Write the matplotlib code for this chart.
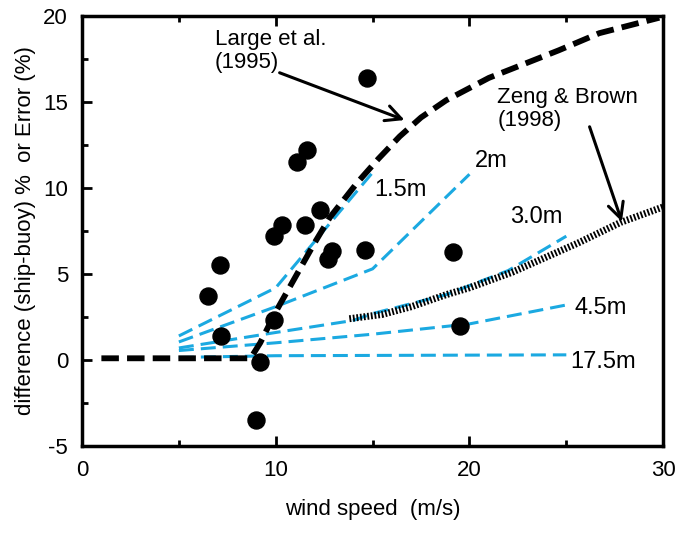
import matplotlib
matplotlib.use("Agg")
import matplotlib.pyplot as plt

plt.rcParams['font.family'] = ['Liberation Sans', 'DejaVu Sans']
plt.rcParams['axes.unicode_minus'] = False

# ship-buoy differences
obs_ws = [14.7, 11.6, 11.1, 12.3, 11.5, 10.3, 9.9, 12.9, 12.7, 14.6, 7.1,
          6.5, 7.2, 9.9, 9.2, 9.0, 19.15, 19.5]
obs_diff = [16.4, 12.2, 11.5, 8.7, 7.85, 7.85, 7.2, 6.35, 5.85, 6.4, 5.5,
            3.7, 1.4, 2.3, -0.1, -3.5, 6.3, 1.95]

# Large et al. (1995)
large_ws = [1.0, 8.7, 9.2, 10.0, 10.9, 12.0, 12.8, 14.2, 15.3, 16.4, 17.5, 18.8,
            21.0, 24.6, 26.7, 29.8]
large_diff = [0.1, 0.1, 1.0, 2.8, 4.6, 6.8, 8.3, 10.3, 11.7, 13.0, 14.1, 15.1,
              16.4, 18.0, 19.0, 19.9]

# Zeng & Brown (1998)
zb_ws = [13.8, 15.5, 17.0, 18.8, 20.0, 22.2, 25.6, 27.8, 30.0]
zb_diff = [2.4, 2.65, 3.1, 3.8, 4.2, 5.1, 6.8, 8.0, 8.9]

# error curves for different heights
heights = ['1.5m', '2m', '3.0m', '4.5m', '17.5m']
h_ws = {
    '1.5m': [5, 10, 15],
    '2m': [5, 10, 15, 20],
    '3.0m': [5, 10, 14, 15, 18.8, 22, 25],
    '4.5m': [5, 10, 15, 20, 25],
    '17.5m': [5, 10, 25],
}
h_err = {
    '1.5m': [1.4, 4.2, 10.9],
    '2m': [1.05, 3.1, 5.3, 10.8],
    '3.0m': [0.7, 1.6, 2.3, 2.7, 3.8, 5.2, 7.2],
    '4.5m': [0.55, 1.0, 1.5, 2.1, 3.2],
    '17.5m': [0.15, 0.25, 0.3],
}
label_pos = {'1.5m': (15.1, 9.9), '2m': (20.3, 11.55), '3.0m': (22.1, 8.33),
             '4.5m': (25.4, 3.0), '17.5m': (25.2, -0.1)}

blue = '#1ba9e1'

fig = plt.figure(figsize=(6.75, 5.33), dpi=100)
ax = fig.add_axes([0.1215, 0.1632, 0.861, 0.8068])

for h in heights:
    ax.plot(h_ws[h], h_err[h], color=blue, lw=2.2, linestyle=(0, (4.9, 2.3)))
    ax.text(*label_pos[h], h, fontsize=17, va='center', ha='left')

ax.plot(large_ws, large_diff, color='black', lw=4.2, linestyle=(0, (3.0, 1.4)))
ax.plot(zb_ws, zb_diff, color='black', lw=5, linestyle=(0, (0.26, 0.26)))

ax.scatter(obs_ws, obs_diff, s=150, color='black', zorder=5)

# labels and arrows
ax.text(6.86, 19.25, 'Large et al.\n(1995)', fontsize=16, ha='left', va='top',
        linespacing=1.15)
ax.annotate('', xy=(16.65, 13.95), xytext=(10.2, 16.7),
            arrowprops=dict(arrowstyle='->', lw=2.2, color='black',
                            mutation_scale=28, shrinkA=0, shrinkB=0))
ax.text(21.44, 15.9, 'Zeng & Brown\n(1998)', fontsize=16, ha='left', va='top',
        linespacing=1.15)
ax.annotate('', xy=(27.87, 8.04), xytext=(26.2, 13.56),
            arrowprops=dict(arrowstyle='->', lw=2.2, color='black',
                            mutation_scale=28, shrinkA=0, shrinkB=0))

ax.set_xlim(0, 30)
ax.set_ylim(-5, 20)
ax.set_xticks([0, 10, 20, 30])
ax.set_xticks([5, 15, 25], minor=True)
ax.set_yticks([-5, 0, 5, 10, 15, 20])
ax.set_yticks([-2.5, 2.5, 7.5, 12.5, 17.5], minor=True)
ax.tick_params(which='both', direction='in', top=True, right=False, width=2,
               labelsize=16, pad=10)
ax.tick_params(which='major', length=7.5)
ax.tick_params(which='minor', length=4.5)
for s in ax.spines.values():
    s.set_linewidth(2.5)

ax.set_xlabel('wind speed  (m/s)', fontsize=16, labelpad=13)
ax.set_ylabel('difference (ship-buoy) %  or Error (%)', fontsize=16, labelpad=5)

fig.savefig('out.png', dpi=100)
